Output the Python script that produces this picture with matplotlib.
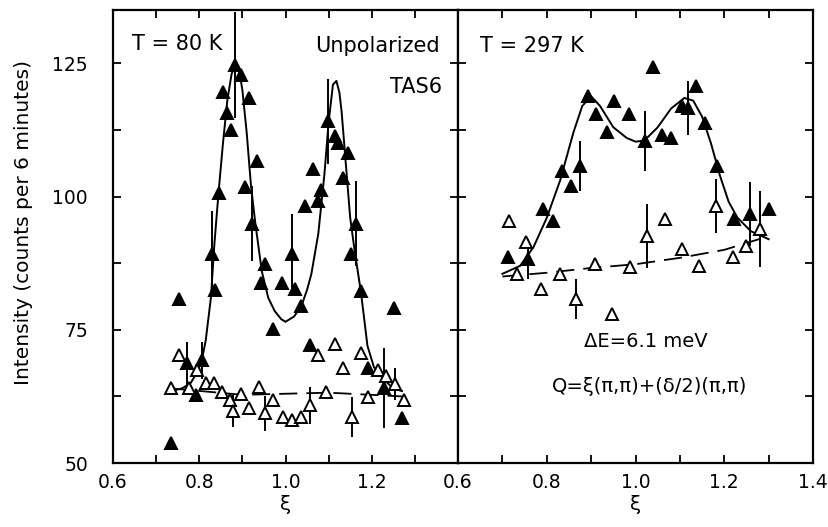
import matplotlib.pyplot as plt
from matplotlib.ticker import MultipleLocator

# ---------------- data ----------------
# T = 80 K panel, filled triangles (spin-flip / magnetic peaks)
left_fill_x = [0.735, 0.754, 0.772, 0.793, 0.806, 0.829, 0.836, 0.846, 0.854, 0.865,
               0.874, 0.884, 0.896, 0.907, 0.915, 0.922, 0.934, 0.944, 0.953, 0.972,
               0.991, 1.014, 1.022, 1.037, 1.045, 1.056, 1.064, 1.076, 1.083, 1.099,
               1.114, 1.122, 1.133, 1.145, 1.152, 1.163, 1.175, 1.191, 1.229, 1.252, 1.271]
left_fill_y = [53.7, 80.7, 68.7, 62.7, 69.3, 89.3, 82.5, 100.7, 119.7, 115.7,
               112.4, 124.7, 122.8, 101.7, 118.5, 94.9, 106.6, 83.8, 87.4, 75.2,
               83.8, 89.3, 82.7, 79.5, 98.2, 72.1, 105.1, 99.2, 101.3, 114.1,
               111.3, 110.1, 103.5, 108.2, 89.3, 94.9, 82.3, 67.8, 64.0, 79.0, 58.4]
left_fill_err = [0, 0, 4.0, 0, 3.5, 8.0, 0, 0, 0, 0,
                 0, 10.0, 0, 0, 0, 7.0, 0, 0, 0, 0,
                 0, 7.5, 0, 0, 0, 0, 0, 0, 0, 8.0,
                 0, 0, 0, 0, 0, 8.0, 0, 0, 7.5, 0, 0]

left_open_x = [0.735, 0.754, 0.777, 0.795, 0.815, 0.834, 0.853, 0.872, 0.878, 0.896,
               0.915, 0.938, 0.953, 0.972, 0.995, 1.014, 1.037, 1.056, 1.076, 1.094,
               1.114, 1.133, 1.154, 1.174, 1.191, 1.214, 1.232, 1.255, 1.275]
left_open_y = [64.0, 70.2, 64.0, 67.4, 65.0, 65.0, 63.3, 61.8, 59.8, 63.0,
               60.3, 64.2, 59.3, 61.8, 58.6, 58.0, 58.6, 60.8, 70.2, 63.3,
               72.4, 67.8, 58.6, 70.6, 62.3, 67.4, 66.4, 64.9, 61.8]
left_open_err = [0, 0, 0, 0, 0, 0, 0, 0, 3.0, 0,
                 0, 0, 3.3, 0, 0, 0, 0, 3.5, 0, 0,
                 0, 0, 3.7, 0, 0, 0, 0, 3.0, 0]

# fitted curves, T = 80 K
left_fit_x = [0.735, 0.76, 0.78, 0.795, 0.806, 0.815, 0.827, 0.835, 0.845, 0.855,
              0.865, 0.875, 0.885, 0.893, 0.90, 0.91, 0.92, 0.93, 0.945, 0.96,
              0.975, 0.99, 1.0, 1.02, 1.037, 1.05, 1.06, 1.076, 1.09, 1.10,
              1.11, 1.118, 1.125, 1.13, 1.14, 1.15, 1.16, 1.175, 1.19, 1.205,
              1.23, 1.25, 1.27]
left_fit_y = [63.5, 64.0, 65.0, 67.0, 69.3, 73.0, 81.0, 91.0, 101.0, 110.0,
              118.0, 123.0, 125.0, 123.5, 120.0, 112.0, 102.0, 95.0, 86.0, 81.0,
              78.5, 77.0, 76.5, 77.5, 79.5, 82.5, 85.5, 93.0, 104.0, 114.0,
              121.0, 121.7, 119.5, 116.0, 106.0, 96.0, 90.0, 82.0, 72.0, 68.0,
              65.5, 64.0, 63.5]
left_bg_x = [0.735, 0.90, 1.10, 1.27]
left_bg_y = [64.0, 62.8, 63.2, 62.5]

# T = 297 K panel
right_fill_x = [0.713, 0.758, 0.792, 0.815, 0.834, 0.854, 0.875, 0.893, 0.912, 0.935,
                0.952, 0.985, 1.021, 1.040, 1.059, 1.080, 1.104, 1.119, 1.137, 1.156,
                1.183, 1.222, 1.258, 1.301]
right_fill_y = [88.6, 88.3, 97.6, 95.4, 104.8, 102.0, 105.7, 118.8, 115.5, 112.1,
                117.9, 115.4, 110.4, 124.4, 111.6, 111.0, 116.9, 116.6, 120.7, 113.8,
                105.7, 95.7, 96.7, 97.6]
right_fill_err = [0, 3.7, 0, 0, 0, 0, 4.7, 0, 0, 0,
                  0, 0, 5.7, 0, 0, 0, 0, 5.0, 0, 0,
                  0, 0, 6.0, 0]

right_open_x = [0.716, 0.732, 0.753, 0.788, 0.830, 0.867, 0.909, 0.946, 0.987, 1.025,
                1.066, 1.104, 1.144, 1.181, 1.220, 1.250, 1.280]
right_open_y = [95.4, 85.5, 91.4, 82.7, 85.5, 80.8, 87.3, 78.0, 86.7, 92.6,
                95.7, 90.1, 87.0, 98.2, 88.6, 90.7, 93.9]
right_open_err = [0, 0, 0, 0, 0, 3.7, 0, 0, 0, 6.0,
                  0, 0, 0, 5.0, 0, 0, 7.2]

right_fit_x = [0.70, 0.74, 0.77, 0.80, 0.83, 0.86, 0.88, 0.90, 0.92, 0.95,
               0.98, 1.00, 1.02, 1.05, 1.08, 1.11, 1.13, 1.15, 1.17, 1.19,
               1.21, 1.23, 1.26, 1.30]
right_fit_y = [85.5, 87.0, 90.5, 96.0, 103.0, 112.0, 117.0, 118.8, 117.0, 113.0,
               111.0, 110.3, 110.5, 113.0, 116.5, 118.5, 118.0, 115.0, 110.0, 104.0,
               99.0, 96.0, 93.5, 92.0]
right_bg_x = [0.70, 0.80, 0.90, 1.00, 1.10, 1.20, 1.29]
right_bg_y = [85.0, 85.7, 86.6, 87.3, 88.5, 90.0, 92.3]

x_ticks = [0.6, 0.8, 1.0, 1.2, 1.4]
y_ticks = [50, 75, 100, 125]


def draw_points(ax, x, y, err, filled):
    face = 'black' if filled else 'white'
    ax.plot(x, y, linestyle='none', marker='^', markersize=8.5,
            markerfacecolor=face, markeredgecolor='black', markeredgewidth=1.4, zorder=4)
    ex = [a for a, e in zip(x, err) if e > 0]
    ey = [b for b, e in zip(y, err) if e > 0]
    ee = [e for e in err if e > 0]
    ax.errorbar(ex, ey, yerr=ee, fmt='none', ecolor='black', elinewidth=1.4,
                capsize=0, zorder=3)


def style_axes(ax, labels, show_y):
    ax.set_xlim(0.6, 1.4)
    ax.set_ylim(50, 135)
    ax.set_xticks(x_ticks)
    ax.set_xticklabels(labels)
    ax.xaxis.set_minor_locator(MultipleLocator(0.1))
    ax.set_yticks(y_ticks)
    ax.yaxis.set_minor_locator(MultipleLocator(12.5))
    ax.tick_params(which='both', direction='in', top=True, right=True,
                   length=6, width=1.3, labelsize=13.5)
    ax.tick_params(axis='x', pad=7)
    ax.tick_params(axis='y', pad=18, labelleft=show_y)
    for s in ax.spines.values():
        s.set_linewidth(1.6)
    ax.set_xlabel('ξ', fontsize=14.5, labelpad=2)


fig = plt.figure(figsize=(8.29, 5.27), dpi=100)
ax1 = fig.add_axes([0.1363, 0.1214, 0.4162, 0.8596])
ax2 = fig.add_axes([0.5525, 0.1214, 0.4282, 0.8596])

# left panel: T = 80 K
ax1.plot(left_fit_x, left_fit_y, color='black', lw=1.4, zorder=2)
ax1.plot(left_bg_x, left_bg_y, color='black', lw=1.3, dashes=(10, 5), zorder=2)
draw_points(ax1, left_fill_x, left_fill_y, left_fill_err, True)
draw_points(ax1, left_open_x, left_open_y, left_open_err, False)
style_axes(ax1, ['0.6', '0.8', '1.0', '1.2', ''], True)
ax1.set_ylabel('Intensity (counts per 6 minutes)', fontsize=14.5)
ax1.yaxis.set_label_coords(-0.232, 0.532)
ax1.text(0.055, 0.925, 'T = 80 K', transform=ax1.transAxes, fontsize=15,
         ha='left', va='center')
ax1.text(0.948, 0.92, 'Unpolarized', transform=ax1.transAxes, fontsize=15,
         ha='right', va='center')
ax1.text(0.955, 0.83, 'TAS6', transform=ax1.transAxes, fontsize=15,
         ha='right', va='center')

# right panel: T = 297 K
ax2.plot(right_fit_x, right_fit_y, color='black', lw=1.4, zorder=2)
ax2.plot(right_bg_x, right_bg_y, color='black', lw=1.3, dashes=(10, 5), zorder=2)
draw_points(ax2, right_fill_x, right_fill_y, right_fill_err, True)
draw_points(ax2, right_open_x, right_open_y, right_open_err, False)
style_axes(ax2, ['0.6', '0.8', '1.0', '1.2', '1.4'], False)
ax2.text(0.062, 0.92, 'T = 297 K', transform=ax2.transAxes, fontsize=15,
         ha='left', va='center')
ax2.text(0.53, 0.268, 'ΔE=6.1 meV', transform=ax2.transAxes, fontsize=14,
         ha='center', va='center')
ax2.text(0.54, 0.168, 'Q=ξ(π,π)+(δ/2)(π,π)', transform=ax2.transAxes, fontsize=14,
         ha='center', va='center')

fig.savefig('out.png', dpi=100)
